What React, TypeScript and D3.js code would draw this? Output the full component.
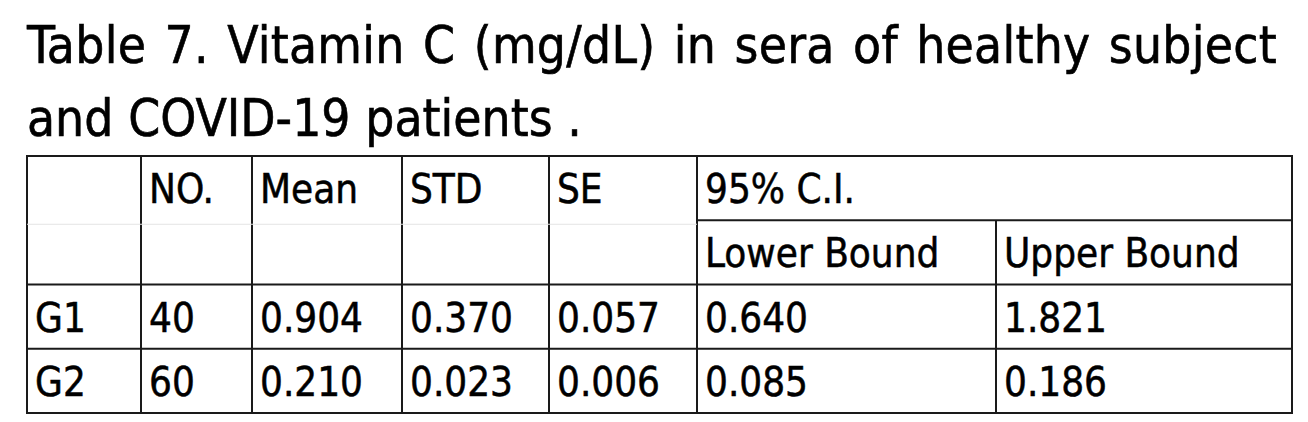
import { useEffect, useRef } from "react"
import * as d3 from "d3"

// table content
const titleLines = [
  "Table 7. Vitamin C (mg/dL) in sera of healthy subject",
  "and COVID-19 patients .",
]
const headerLabels = ["", "NO.", "Mean", "STD", "SE", "95% C.I."]
const boundLabels = ["Lower Bound", "Upper Bound"]
const groups = ["G1", "G2"]
const counts = ["40", "60"]
const means = ["0.904", "0.210"]
const stds = ["0.370", "0.023"]
const ses = ["0.057", "0.006"]
const lowerBounds = ["0.640", "0.085"]
const upperBounds = ["1.821", "0.186"]

const W = 1308
const H = 422
const FONT = "'DejaVu Sans Condensed', 'DejaVu Sans', sans-serif"

// column edges (layout)
const colEdges = [27, 141, 252, 402, 549, 697, 996, 1292]
const tableTop = 156
const tableBottom = 413

export default function App() {
  const svgRef = useRef<SVGSVGElement>(null)

  useEffect(() => {
    document.body.style.margin = "0"
    if (!svgRef.current) return
    const svg = d3.select(svgRef.current)
    svg.selectAll("*").remove()

    svg.append("rect").attr("width", W).attr("height", H).attr("fill", "#fff")

    // Title, first line justified across the table width
    const titleSize = 51
    const titleBase = [63, 136]
    titleLines.forEach((line, li) => {
      const words = line.split(" ")
      const g = svg.append("g")
      const nodes = words.map((w) =>
        g.append("text")
          .attr("font-family", FONT)
          .attr("font-size", titleSize)
          .attr("fill", "#000")
          .attr("stroke", "#000")
          .attr("stroke-width", 0.6)
          .attr("y", titleBase[li])
          .text(w)
      )
      const normalGap = titleSize * 0.29
      const left = 27
      const right = 1277
      let widths = nodes.map((n) => (n.node() as SVGTextElement).getComputedTextLength())
      if (li === 0) {
        // spread the leftover width partly into letters, partly into gaps
        const gap0 = titleSize * 0.36
        const chars = d3.sum(words, (w) => w.length)
        const spare = right - left - d3.sum(widths) - gap0 * (words.length - 1)
        const ls = Math.max(0, spare / chars)
        nodes.forEach((n) => n.attr("letter-spacing", ls))
        widths = nodes.map((n) => (n.node() as SVGTextElement).getComputedTextLength())
      }
      const total = d3.sum(widths)
      const gap = li === 0 ? (right - left - total) / (words.length - 1) : normalGap
      let x = left
      nodes.forEach((n, i) => {
        n.attr("x", x)
        x += widths[i] + gap
      })
    })

    // rows: header, sub-header, G1, G2
    const y = d3.scaleBand<number>()
      .domain([0, 1, 2, 3])
      .range([tableTop, tableBottom])
      .paddingInner(0)

    const lineColor = "#1a1a1a"
    const lines = svg.append("g").attr("stroke", lineColor).attr("stroke-width", 2)

    // faint guide line in merged header cells
    svg.append("line")
      .attr("x1", colEdges[0]).attr("x2", colEdges[5])
      .attr("y1", y(1)! + 4).attr("y2", y(1)! + 4)
      .attr("stroke", "#e4e4e4").attr("stroke-width", 1)

    // horizontal rules
    const hRules = [
      { y: tableTop, x1: colEdges[0], x2: colEdges[7] },
      { y: y(1)!, x1: colEdges[5], x2: colEdges[7] },
      { y: y(2)!, x1: colEdges[0], x2: colEdges[7] },
      { y: y(3)!, x1: colEdges[0], x2: colEdges[7] },
      { y: tableBottom, x1: colEdges[0], x2: colEdges[7] },
    ]
    lines.selectAll("line.h")
      .data(hRules)
      .enter()
      .append("line")
      .attr("class", "h")
      .attr("x1", (d) => d.x1 - 1)
      .attr("x2", (d) => d.x2 + 1)
      .attr("y1", (d) => d.y)
      .attr("y2", (d) => d.y)

    // vertical rules
    const vRules = colEdges.map((x, i) => ({
      x,
      y1: i === 6 ? y(1)! : tableTop,
      y2: tableBottom,
    }))
    lines.selectAll("line.v")
      .data(vRules)
      .enter()
      .append("line")
      .attr("class", "v")
      .attr("x1", (d) => d.x)
      .attr("x2", (d) => d.x)
      .attr("y1", (d) => d.y1)
      .attr("y2", (d) => d.y2)

    // cell texts
    const cellSize = 40
    const padX = 8
    const baseOff = 47
    type Cell = { col: number; row: number; text: string }
    const cells: Cell[] = []
    headerLabels.forEach((t, i) => { if (t) cells.push({ col: i, row: 0, text: t }) })
    boundLabels.forEach((t, i) => cells.push({ col: 5 + i, row: 1, text: t }))
    groups.forEach((gname, r) => {
      const vals = [gname, counts[r], means[r], stds[r], ses[r], lowerBounds[r], upperBounds[r]]
      vals.forEach((v, c) => cells.push({ col: c, row: 2 + r, text: v }))
    })

    svg.append("g")
      .selectAll("text")
      .data(cells)
      .enter()
      .append("text")
      .attr("font-family", FONT)
      .attr("font-size", cellSize)
      .attr("fill", "#000")
      .attr("stroke", "#000")
      .attr("stroke-width", 0.5)
      .attr("x", (d) => colEdges[d.col] + padX)
      .attr("y", (d) => y(d.row)! + baseOff)
      .text((d) => d.text)
  }, [])

  return <svg ref={svgRef} width={W} height={H} style={{ display: "block" }} />
}
